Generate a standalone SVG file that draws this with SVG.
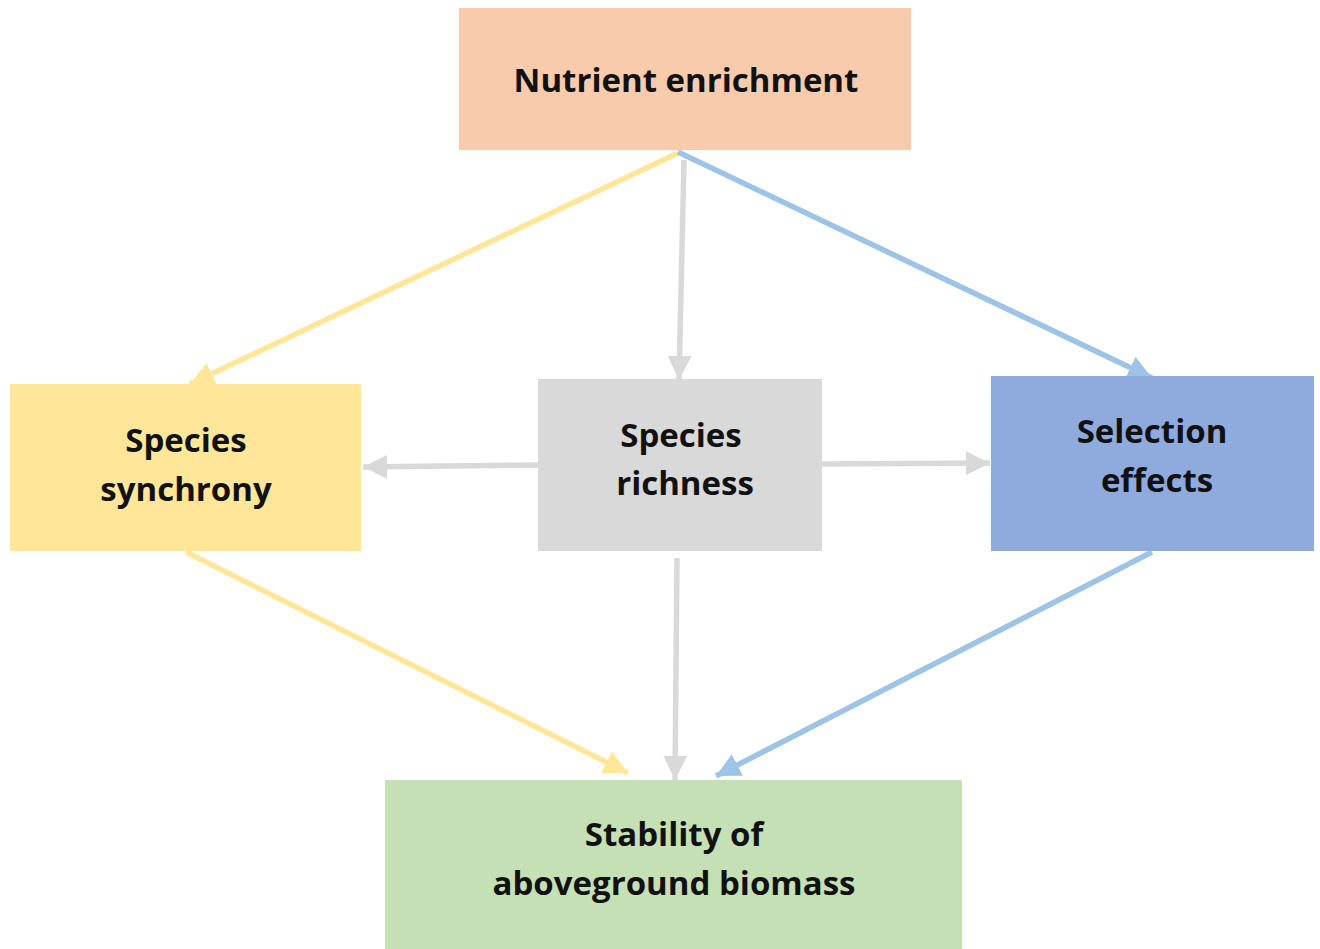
<svg xmlns="http://www.w3.org/2000/svg" width="1320" height="949" viewBox="0 0 1320 949">
<style>
.lbl{font-family:"Open Sans","Liberation Sans",sans-serif;font-weight:bold;font-size:33px;fill:#111;text-anchor:middle;dominant-baseline:central}
.y{stroke:#FFE699;stroke-width:5.5;fill:none}
.g{stroke:#D9D9D9;stroke-width:5.5;fill:none}
.b{stroke:#9DC3E6;stroke-width:5.5;fill:none}
</style>
<defs>
<marker id="ay" markerUnits="userSpaceOnUse" markerWidth="28" markerHeight="26" refX="24" refY="12" orient="auto"><path d="M0,0 L24,12 L0,24 Z" fill="#FFE699"/></marker>
<marker id="ag" markerUnits="userSpaceOnUse" markerWidth="28" markerHeight="26" refX="24" refY="12" orient="auto"><path d="M0,0 L24,12 L0,24 Z" fill="#D9D9D9"/></marker>
<marker id="ab" markerUnits="userSpaceOnUse" markerWidth="28" markerHeight="26" refX="24" refY="12" orient="auto"><path d="M0,0 L24,12 L0,24 Z" fill="#9DC3E6"/></marker>
</defs>
<rect width="1320" height="949" fill="#fff"/>
<g id="connectors">
<line class="y" x1="678" y1="153" x2="190" y2="384" marker-end="url(#ay)"/>
<line class="g" x1="684" y1="160" x2="679" y2="380" marker-end="url(#ag)"/>
<line class="b" x1="678" y1="152" x2="1152" y2="378" marker-end="url(#ab)"/>
<line class="g" x1="538" y1="465" x2="363" y2="467" marker-end="url(#ag)"/>
<line class="g" x1="822" y1="464" x2="990" y2="463" marker-end="url(#ag)"/>
<line class="y" x1="186" y1="552" x2="628" y2="773" marker-end="url(#ay)"/>
<line class="g" x1="677" y1="558" x2="675" y2="780" marker-end="url(#ag)"/>
<line class="b" x1="1152" y1="552" x2="716" y2="776" marker-end="url(#ab)"/>
</g>
<g id="nutrient"><rect x="459" y="8" width="452" height="142" fill="#F8CBAD"/><text class="lbl" x="686" y="79">Nutrient enrichment</text></g>
<g id="synchrony"><rect x="10" y="384" width="351" height="167" fill="#FFE699"/><text class="lbl" x="186" y="439">Species</text><text class="lbl" x="186" y="488">synchrony</text></g>
<g id="richness"><rect x="538" y="379" width="284" height="172" fill="#D9D9D9"/><text class="lbl" x="681" y="434">Species</text><text class="lbl" x="685" y="482">richness</text></g>
<g id="selection"><rect x="991" y="376" width="323" height="175" fill="#8FAADC"/><text class="lbl" x="1152" y="430">Selection</text><text class="lbl" x="1157" y="479">effects</text></g>
<g id="stability"><rect x="385" y="780" width="577" height="169" fill="#C5E0B4"/><text class="lbl" x="674" y="833">Stability of</text><text class="lbl" x="674" y="882">aboveground biomass</text></g>
</svg>
